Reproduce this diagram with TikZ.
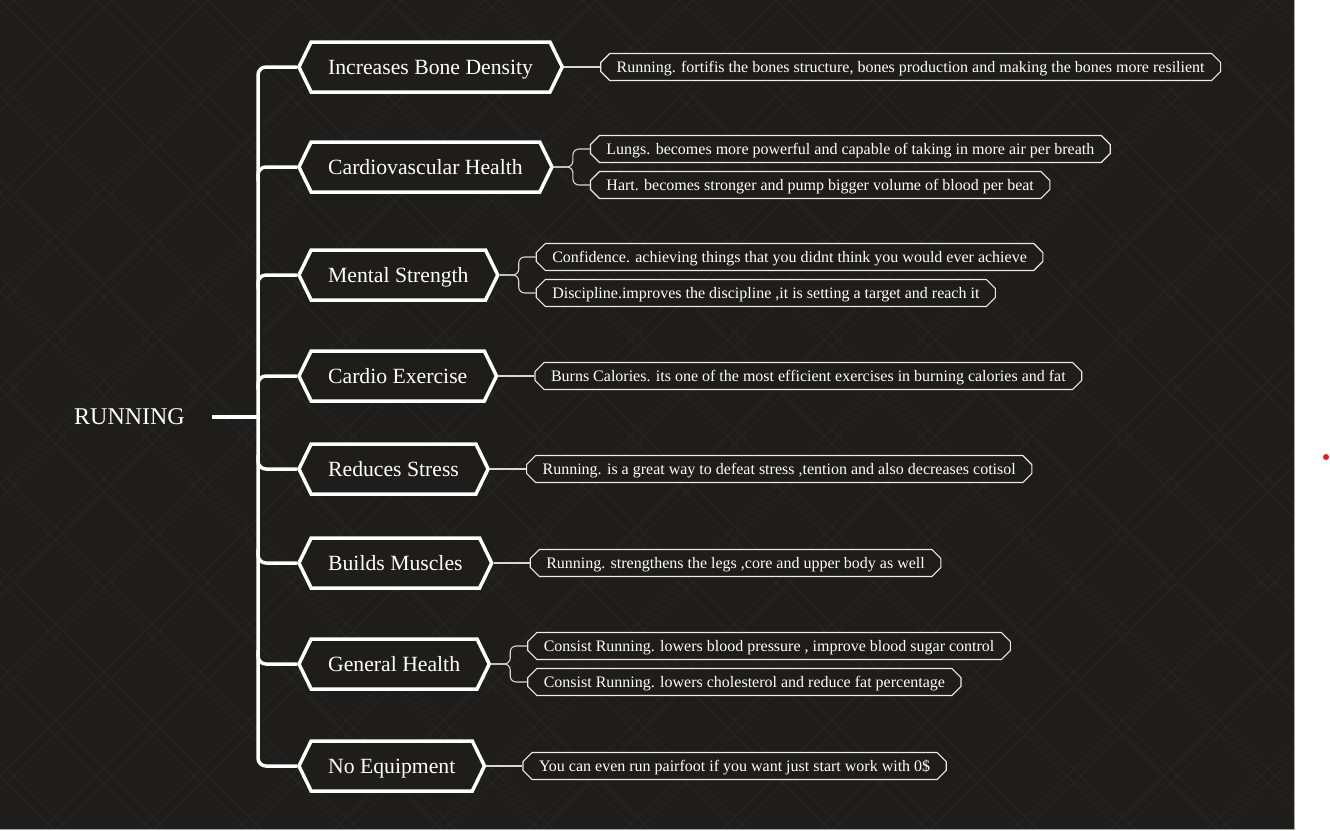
\documentclass[tikz,border=0pt]{standalone}
\usepackage{fontspec}
\setmainfont{Liberation Serif}
\usetikzlibrary{positioning,shapes.symbols,shapes.misc}
\definecolor{boardbg}{RGB}{30,29,28}
\definecolor{boardline}{RGB}{38,37,36}
\definecolor{twiggray}{RGB}{215,215,215}
\definecolor{dotred}{RGB}{232,28,30}

\begin{document}
\begin{tikzpicture}[x=1pt, y=-1pt,
    topic/.style={signal, signal to=west and east, signal pointer angle=128, draw=white, line width=3.5pt, fill=boardbg, text=white, minimum height=50pt, inner xsep=17pt, text height=14.5pt, text depth=0pt, font=\fontsize{21.7}{24}\selectfont, anchor=west},
    leaf/.style={chamfered rectangle, chamfered rectangle xsep=6pt, draw=white!92!black, line width=1.1pt, fill=boardbg, text=white, minimum height=27pt, inner xsep=10pt, inner ysep=2pt, text height=10.8pt, text depth=0pt, font=\fontsize{16}{18}\selectfont},
    trunk/.style={draw=white, line width=3.5pt, rounded corners=8pt},
    twig/.style={draw=twiggray, line width=1.1pt, rounded corners=6pt},
]
\useasboundingbox (0,0) rectangle (1330,830);

% === Background ===
\fill[white] (0,0) rectangle (1330,830);
\fill[boardbg] (0,0) rectangle (1294,829);
\begin{scope}
    \clip (0,0) rectangle (1294,829);
    \foreach \c in {-873,-776,...,2200}{
        \draw[boardline, line width=1.2pt] (\c,0) -- ++(830,830);
        \draw[boardline, line width=1.2pt] (\c+14,0) -- ++(830,830);
        \draw[boardline, line width=1.2pt] (\c,0) -- ++(-830,830);
        \draw[boardline, line width=1.2pt] (\c+14,0) -- ++(-830,830);
    }
\end{scope}
\draw[gray!70, line width=1pt] (1294.5,0) -- (1294.5,829.5) -- (0,829.5);
\fill[dotred] (1326,457) circle (3pt);

% === Root ===
\node[text=white, font=\fontsize{24}{28}\selectfont] (root) at (129.5,417) {RUNNING};
\coordinate (hub) at (258,417);
\draw[trunk, line width=4.5pt] ([xshift=24pt]root.east) -- (hub);

% === Topics ===
\node[topic] (bone) at (297,67) {Increases Bone Density};
\node[topic] (cardio) at (297,167) {Cardiovascular Health};
\node[topic] (mental) at (297,275) {Mental Strength};
\node[topic] (exercise) at (297,376) {Cardio Exercise};
\node[topic] (stress) at (297,469) {Reduces Stress};
\node[topic] (muscle) at (297,563) {Builds Muscles};
\node[topic] (general) at (297,664) {General Health};
\node[topic] (equip) at (297,766) {No Equipment};

% Trunk and branches
\draw[trunk] (bone.west) -- ++(-39,0) |- (equip.west);
\foreach \t in {cardio,mental,exercise}{
    \draw[trunk] (\t.west) -- ++(-39,0) -- ++(0,14);
}
\foreach \t in {stress,muscle,general}{
    \draw[trunk] (\t.west) -- ++(-39,0) -- ++(0,-14);
}

% === Leaves ===
\node[leaf, right=36pt of bone] (bone1) {Running. fortifis the bones structure, bones production and making the bones more resilient};
\node[leaf, right=36pt of cardio, yshift=18pt] (cardio1) {Lungs. becomes more powerful and capable of taking in more air per breath};
\node[leaf, right=36pt of cardio, yshift=-18pt] (cardio2) {Hart. becomes stronger and pump bigger volume of blood per beat};
\node[leaf, right=36pt of mental, yshift=18pt] (mental1) {Confidence. achieving things that you didnt think you would ever achieve};
\node[leaf, right=36pt of mental, yshift=-18pt] (mental2) {Discipline.improves the discipline ,it is setting a target and reach it};
\node[leaf, right=36pt of exercise] (exercise1) {Burns Calories. its one of the most efficient exercises in burning calories and fat};
\node[leaf, right=36pt of stress] (stress1) {Running. is a great way to defeat stress ,tention and also decreases cotisol};
\node[leaf, right=36pt of muscle] (muscle1) {Running. strengthens the legs ,core and upper body as well};
\node[leaf, right=36pt of general, yshift=18pt] (general1) {Consist Running. lowers blood pressure , improve blood sugar control};
\node[leaf, right=36pt of general, yshift=-18pt] (general2) {Consist Running. lowers cholesterol and reduce fat percentage};
\node[leaf, right=36pt of equip] (equip1) {You can even run pairfoot if you want just start work with 0\$};

% Twigs
\foreach \t/\l in {bone/bone1,exercise/exercise1,stress/stress1,muscle/muscle1,equip/equip1}{
    \draw[twig] (\t.east) -- (\l.west);
}
\foreach \t in {cardio,mental,general}{
    \draw[twig] (\t.east) -- ++(19,0) |- (\t1.west);
    \draw[twig] (\t.east) -- ++(19,0) |- (\t2.west);
}

\end{tikzpicture}
\end{document}
